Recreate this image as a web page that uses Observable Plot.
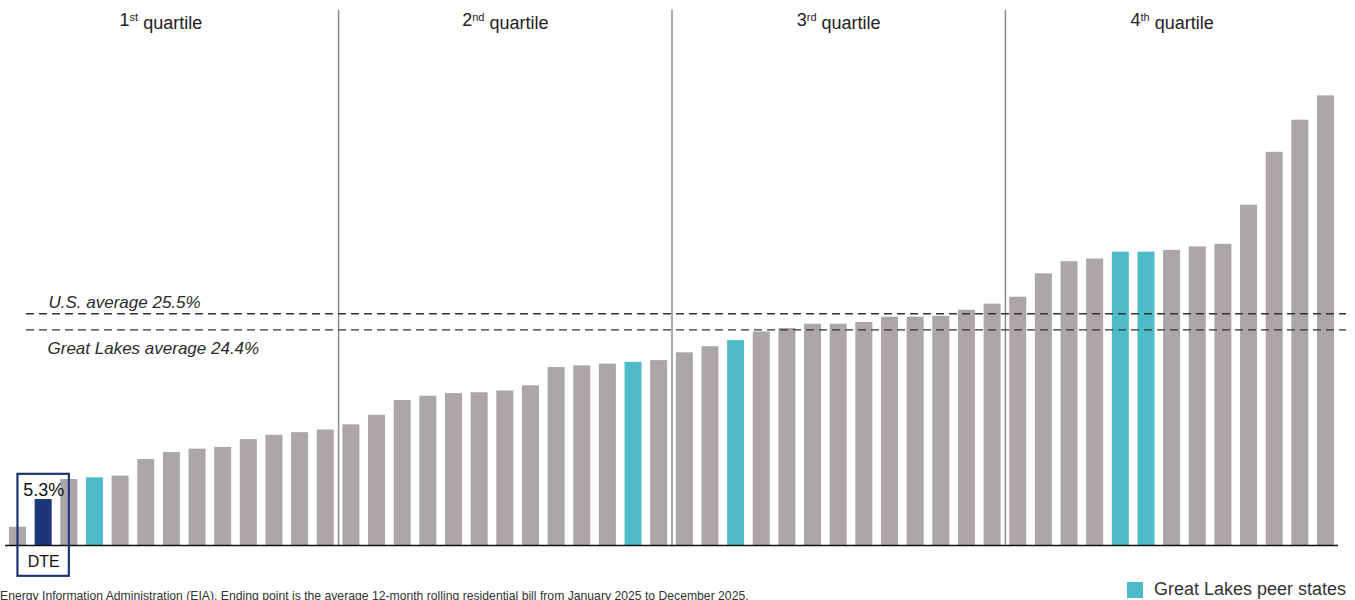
<!DOCTYPE html>
<html>
<head>
<meta charset="utf-8">
<script src="https://cdn.jsdelivr.net/npm/d3@7"></script>
<script src="https://cdn.jsdelivr.net/npm/@observablehq/plot@0.6"></script>
<style>
  html, body { margin: 0; padding: 0; background: #fff; overflow: hidden; }
  #page { position: relative; width: 1355px; height: 600px; font-family: 'Liberation Sans', Arial, sans-serif; }
  #legend { position: absolute; left: 1127px; top: 579px; display: flex; align-items: center; font-size: 18px; color: #333; white-space: nowrap; }
  #legend .sw { width: 16px; height: 16px; background: #4dbcc8; margin-right: 11px; }
  #caption { position: absolute; left: 0px; top: 590px; font-size: 12.2px; line-height: 1; color: #333; white-space: nowrap; }
</style>
</head>
<body>
<div id="page">
  <div id="chart"></div>
  <div id="legend"><div class="sw"></div><span>Great Lakes peer states</span></div>
  <div id="caption">Energy Information Administration (EIA). Ending point is the average 12-month rolling residential bill from January 2025 to December 2025.</div>
</div>
<script>
// ---- data ----
const values = [
  2.1, 5.3, 7.6, 7.8, 8.0, 9.9, 10.7, 11.1, 11.3, 12.2, 12.7, 13.0, 13.3,
  13.9, 15.0, 16.7, 17.2, 17.5, 17.6, 17.8, 18.4, 20.5, 20.7, 20.9, 21.1, 21.3,
  22.2, 22.9, 23.6, 24.6, 25.0, 25.5, 25.5, 25.7, 26.3, 26.3, 26.4, 27.1, 27.8,
  28.6, 31.3, 32.7, 33.0, 33.8, 33.8, 34.0, 34.4, 34.7, 39.2, 45.3, 49.0, 51.8
];
const dteRank = 2;
const peerRanks = [4, 25, 29, 44, 45];
const dteLabel = "DTE";
const avgLabels = ["U.S. average 25.5%", "Great Lakes average 24.4%"];
const avgLevels = [26.7, 24.85];
const quartileOrdinals = ["1", "2", "3", "4"];
const quartileSuffixes = ["st", "nd", "rd", "th"];
const quartileBoundaryRanks = [13, 26, 39];
const quartileCenterRanks = [7, 20, 33, 46];
const dteBox = {y1: -3.55, y2: 8.2};

// ---- build table ----
const data = values.map((v, i) => ({
  rank: i + 1,
  value: v,
  kind: (i + 1) === dteRank ? "dte" : peerRanks.includes(i + 1) ? "peer" : "other"
}));
const colors = {other: "#aba7a6", peer: "#4dbcc8", dte: "#1d3778"};
const quartiles = quartileOrdinals.map((o, i) => ({ord: o, sup: quartileSuffixes[i], rank: quartileCenterRanks[i]}));
const avgs = avgLabels.map((l, i) => ({label: l, level: avgLevels[i]}));

const W = 1355, H = 580, mL = 5, mR = 17, mT = 10, mB = 35;
const pIn = 0.337, pOut = 0.156;
const step = (W - mL - mR) / (values.length - pIn + 2 * pOut);
const pxPerUnit = 8.68;
const yMax = (H - mT - mB) / pxPerUnit;

const chart = Plot.plot({
  width: W, height: H,
  marginLeft: mL, marginRight: mR, marginTop: mT, marginBottom: mB,
  style: {fontFamily: "'Liberation Sans', Arial, sans-serif", fontSize: "18px", color: "#222", background: "white", overflow: "visible"},
  x: {type: "band", domain: data.map(d => d.rank), paddingInner: pIn, paddingOuter: pOut, axis: null},
  y: {domain: [0, yMax], axis: null},
  marks: [
    Plot.ruleX(quartileBoundaryRanks, {x: d => d, dx: step / 2, stroke: "#8c8c8c", strokeWidth: 1.5}),
    Plot.barY(data, {x: "rank", y: "value", fill: d => colors[d.kind]}),
    Plot.ruleY(avgs, {y: "level", stroke: "#333", strokeWidth: 1.3, strokeDasharray: "8,5", insetLeft: 21, insetRight: -8}),
    Plot.text(avgs.slice(0, 1), {y: "level", text: "label", frameAnchor: "left", textAnchor: "start", dx: 43, dy: -11, fontStyle: "italic", fontSize: 17, fill: "#2a2a2a"}),
    Plot.text(avgs.slice(1), {y: "level", text: "label", frameAnchor: "left", textAnchor: "start", dx: 42, dy: 19, fontStyle: "italic", fontSize: 17, fill: "#2a2a2a"}),
    Plot.ruleY([0], {stroke: "#111", strokeWidth: 1.3}),
    Plot.barY([dteRank], {x: d => d, y1: dteBox.y1, y2: dteBox.y2, fill: "none", stroke: "#1f3574", strokeWidth: 2.2, insetLeft: -17.2, insetRight: -17.2}),
    Plot.text(data.filter(d => d.kind === "dte"), {x: "rank", y: "value", text: d => `${d.value}%`, lineAnchor: "bottom", dy: -3, fontSize: 18, fill: "#111"}),
    Plot.text([dteLabel], {x: () => dteRank, y: () => 0, text: d => d, lineAnchor: "bottom", dy: 21, fontSize: 16, fill: "#111"}),
    Plot.text(quartiles.slice(0, 1), {x: "rank", text: d => `${d.ord}${d.sup} quartile`, frameAnchor: "top", dy: 3, dx: -11, fontSize: 18, fill: "#222"}),
    Plot.text(quartiles.slice(1), {x: "rank", text: d => `${d.ord}${d.sup} quartile`, frameAnchor: "top", dy: 3, fontSize: 18, fill: "#222"})
  ]
});
document.getElementById("chart").appendChild(chart);

// superscripts for quartile labels
d3.select(chart).selectAll("text").each(function() {
  const t = this.textContent;
  const m = /^(\d)(st|nd|rd|th) quartile$/.exec(t);
  if (!m) return;
  const s = d3.select(this);
  s.text(null);
  s.append("tspan").text(m[1]);
  s.append("tspan").attr("dy", "-0.45em").attr("font-size", "11px").text(m[2]);
  s.append("tspan").attr("dy", "0.45em").text(" quartile");
});
</script>
</body>
</html>
